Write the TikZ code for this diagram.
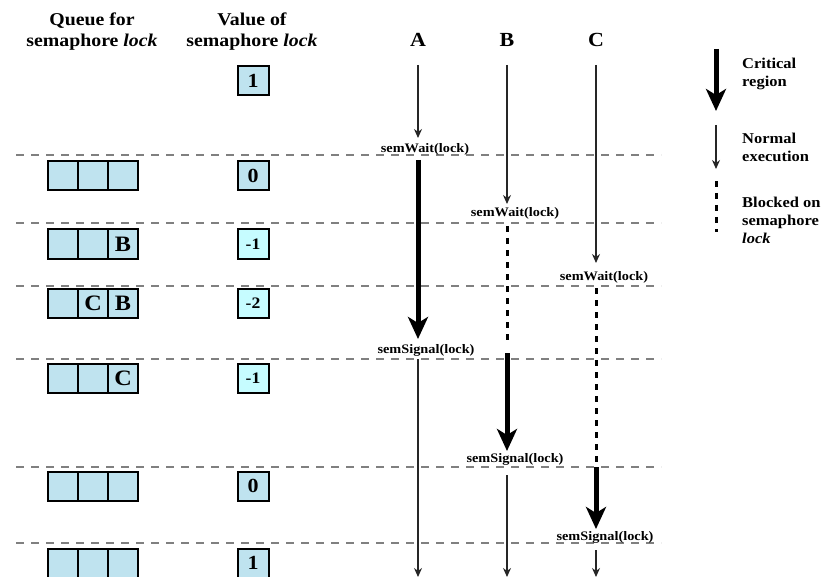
\documentclass[tikz,border=0pt]{standalone}
\usepackage{fontspec}
\setmainfont{Liberation Serif}[FakeStretch=1.1]
\usepackage{tikz}
\usetikzlibrary{positioning, arrows.meta}
\definecolor{cellblue}{HTML}{BFE3EF}
\definecolor{negcyan}{HTML}{C6FCFF}
\definecolor{rulegray}{HTML}{808080}

\begin{document}
\begin{tikzpicture}[
    x=1pt, y=-1pt,
    node distance=0pt,
    head/.style={font=\bfseries\fontsize{18}{21}\selectfont, align=center},
    proc/.style={font=\bfseries\fontsize{20}{24}\selectfont},
    call/.style={font=\bfseries\fontsize{13}{15}\selectfont, inner sep=1pt},
    legtext/.style={
        font=\bfseries\fontsize{15}{18}\selectfont,
        align=left, anchor=west, inner sep=0pt
    },
    qcell/.style={
        rectangle, draw=black, line width=2pt,
        fill=cellblue, outer sep=0pt, inner sep=0pt,
        minimum width=30pt, minimum height=29pt,
        font=\bfseries\fontsize{22}{22}\selectfont
    },
    valbox/.style={
        rectangle, draw=black, line width=2pt,
        fill=cellblue, inner sep=0pt,
        minimum width=31pt, minimum height=29pt,
        font=\bfseries\fontsize{20}{20}\selectfont
    },
    negbox/.style={valbox, fill=negcyan, font=\bfseries\fontsize{16}{16}\selectfont},
    separator/.style={rulegray, line width=1.5pt, dash pattern=on 8pt off 7pt},
    normal/.style={-{Stealth[length=9pt, width=8pt]}, line width=1.2pt, black!85},
    critical/.style={-{Stealth[length=22pt, width=20pt, inset=6pt]}, line width=5pt},
    blocked/.style={line width=3pt, dash pattern=on 6pt off 6pt}
]
\useasboundingbox (0,0) rectangle (837,577);

% Column headers
\node[head] (qhead) at (92,32) {Queue for\\semaphore \textit{lock}};
\node[head] (vhead) at (252,32) {Value of\\semaphore \textit{lock}};
\node[proc] (pA) at (418,40) {A};
\node[proc] (pB) at (507,40) {B};
\node[proc] (pC) at (596,40) {C};

% Time separators
\draw[separator] (16,155) -- (661,155);
\draw[separator] (16,223) -- (661,223);
\draw[separator] (16,286) -- (661,286);
\draw[separator] (16,359) -- (661,359);
\draw[separator] (16,467) -- (661,467);
\draw[separator] (16,543) -- (661,543);

% Semaphore values
\node[valbox] (v0) at (253,81) {1};
\node[valbox] (v1) at (253,176) {0};
\node[negbox] (v2) at (253,244) {-1};
\node[negbox] (v3) at (253,303) {-2};
\node[negbox] (v4) at (253,378) {-1};
\node[valbox] (v5) at (253,486) {0};
\node[valbox] (v6) at (253,563) {1};

% Queue contents
\node[qcell] (q1a) at (63,176) {};
\node[qcell, right=of q1a] (q1b) {};
\node[qcell, right=of q1b] (q1c) {};
\node[qcell] (q2a) at (63,244) {};
\node[qcell, right=of q2a] (q2b) {};
\node[qcell, right=of q2b] (q2c) {B};
\node[qcell] (q3a) at (63,303) {};
\node[qcell, right=of q3a] (q3b) {C};
\node[qcell, right=of q3b] (q3c) {B};
\node[qcell] (q4a) at (63,378) {};
\node[qcell, right=of q4a] (q4b) {};
\node[qcell, right=of q4b] (q4c) {C};
\node[qcell] (q5a) at (63,486) {};
\node[qcell, right=of q5a] (q5b) {};
\node[qcell, right=of q5b] (q5c) {};
\node[qcell] (q6a) at (63,563) {};
\node[qcell, right=of q6a] (q6b) {};
\node[qcell, right=of q6b] (q6c) {};

% Semaphore calls
\node[call] (waitA) at (425,149) {semWait(lock)};
\node[call] (waitB) at (515,213) {semWait(lock)};
\node[call] (waitC) at (604,277) {semWait(lock)};
\node[call] (sigA) at (426,350) {semSignal(lock)};
\node[call] (sigB) at (515,459) {semSignal(lock)};
\node[call] (sigC) at (605,537) {semSignal(lock)};

% Process A
\coordinate (A0) at (418,65);
\coordinate (A1) at (418,138);
\coordinate (A2) at (418,160);
\coordinate (A3) at (418,339);
\coordinate (A4) at (418,359);
\coordinate (A5) at (418,577);
\draw[normal] (A0) -- (A1);
\draw[critical] (A2) -- (A3);
\draw[normal] (A4) -- (A5);

% Process B
\coordinate (B0) at (507,65);
\coordinate (B1) at (507,204);
\coordinate (B2) at (507,226);
\coordinate (B3) at (507,343);
\coordinate (B4) at (507,353);
\coordinate (B5) at (507,451);
\coordinate (B6) at (507,475);
\coordinate (B7) at (507,577);
\draw[normal] (B0) -- (B1);
\draw[blocked] (B2) -- (B3);
\draw[critical] (B4) -- (B5);
\draw[normal] (B6) -- (B7);

% Process C
\coordinate (C0) at (596,65);
\coordinate (C1) at (596,263);
\coordinate (C2) at (596,288);
\coordinate (C3) at (596,463);
\coordinate (C4) at (596,467);
\coordinate (C5) at (596,529);
\coordinate (C6) at (596,550);
\coordinate (C7) at (596,577);
\draw[normal] (C0) -- (C1);
\draw[blocked] (C2) -- (C3);
\draw[critical] (C4) -- (C5);
\draw[normal] (C6) -- (C7);

% Legend
\coordinate (Lc0) at (716,49);
\coordinate (Lc1) at (716,111);
\coordinate (Ln0) at (716,125);
\coordinate (Ln1) at (716,169);
\coordinate (Lb0) at (716,181);
\coordinate (Lb1) at (716,232);
\draw[critical] (Lc0) -- (Lc1);
\draw[normal] (Ln0) -- (Ln1);
\draw[blocked] (Lb0) -- (Lb1);
\node[legtext] (lcrit) at (742,74) {Critical\\region};
\node[legtext] (lnorm) at (742,147) {Normal\\execution};
\node[legtext] (lblock) at (742,220) {Blocked on\\semaphore\\\textit{lock}};

\end{tikzpicture}
\end{document}
